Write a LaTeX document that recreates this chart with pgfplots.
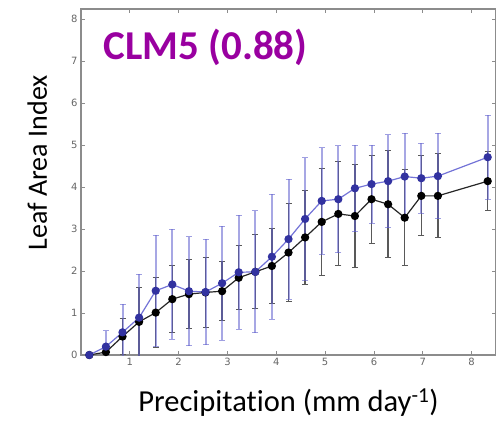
\documentclass[border=0pt]{standalone}
\usepackage{fontspec}
\setmainfont{Carlito}[Ligatures=NoCommon]
\newfontfamily\tickfont{DejaVu Sans}
\usepackage{pgfplots}
\usepackage{pgfplotstable}
\pgfplotsset{compat=1.18}

\definecolor{titlepurple}{RGB}{153,0,160}
\definecolor{markblue}{RGB}{50,50,160}
\definecolor{lineblue}{RGB}{115,115,215}
\definecolor{barblue}{RGB}{95,95,205}
\definecolor{framegray}{RGB}{140,140,140}

% precipitation bin, mean LAI, spread
\pgfplotstableread{
x     y     err
0.17  0.00  0.00
0.51  0.20  0.38
0.85  0.54  0.67
1.19  0.89  1.03
1.53  1.53  1.32
1.87  1.68  1.31
2.21  1.52  1.30
2.55  1.50  1.26
2.89  1.71  1.36
3.23  1.97  1.36
3.57  1.98  1.45
3.91  2.34  1.49
4.25  2.76  1.43
4.59  3.24  1.46
4.93  3.67  1.27
5.27  3.71  1.27
5.61  3.97  1.03
5.95  4.07  0.93
6.29  4.14  1.11
6.63  4.25  1.03
6.97  4.21  0.83
7.31  4.26  1.02
8.33  4.71  1.00
}\modeldata

\pgfplotstableread{
x     y     err
0.17  0.00  0.00
0.51  0.07  0.10
0.85  0.44  0.43
1.19  0.79  0.82
1.53  1.01  0.83
1.87  1.33  0.80
2.21  1.45  0.82
2.55  1.49  0.83
2.89  1.52  0.71
3.23  1.84  0.76
3.57  1.98  0.88
3.91  2.12  0.90
4.25  2.44  1.17
4.59  2.80  1.11
4.93  3.17  1.28
5.27  3.36  1.24
5.61  3.31  1.22
5.95  3.71  1.05
6.29  3.59  1.27
6.63  3.27  1.15
6.97  3.79  0.95
7.31  3.79  1.00
8.33  4.14  0.71
}\obsdata

\begin{document}
\begin{tikzpicture}
\begin{axis}[
    scale only axis,
    width=415pt, height=346pt,
    xmin=0, xmax=8.5,
    ymin=0, ymax=8.24,
    xtick={1,...,8},
    ytick={0,...,8},
    axis line style={framegray, line width=1.6pt},
    tick style={framegray, line width=0.8pt},
    major tick length=4pt,
    tick label style={font=\tickfont\fontsize{10}{10}\selectfont, text=black!60},
    /pgf/number format/assume math mode=true,
    xlabel={Precipitation (mm day\textsuperscript{-1})},
    ylabel={Leaf Area Index},
    xlabel style={font=\fontsize{30.5}{30.5}\selectfont,
        at={(axis description cs:0.5,-0.162)}, anchor=base},
    ylabel style={font=\fontsize{28}{28}\selectfont,
        at={(axis description cs:-0.082,0.555)}, anchor=base},
    error bars/y dir=both,
    error bars/y explicit,
]
% spread bars
\addplot[draw=none, mark=none,
    error bars/error bar style={black!65, line width=1.5pt},
    error bars/error mark options={rotate=90, mark size=3pt, black!65, line width=1pt}]
    table[x=x, y=y, y error=err] {\obsdata};
\addplot[draw=none, mark=none,
    error bars/error bar style={barblue, opacity=0.55, line width=2pt},
    error bars/error mark options={rotate=90, mark size=3pt, barblue, opacity=0.6, line width=1pt}]
    table[x=x, y=y, y error=err] {\modeldata};
% means
\addplot[black!85, line width=1.2pt, mark=*, mark size=3.5pt, mark options={fill=black, draw=black}]
    table[x=x, y=y] {\obsdata};
\addplot[lineblue, line width=1.2pt, mark=*, mark size=3.5pt, mark options={fill=markblue, draw=markblue}]
    table[x=x, y=y] {\modeldata};
\node[anchor=base west, font=\bfseries\fontsize{41}{41}\selectfont, text=titlepurple]
    at (rel axis cs:0.046,0.853) {CLM5 (0.88)};
\end{axis}
\pgfresetboundingbox
\path ([shift={(-81pt,-65pt)}]current axis.south west) rectangle ([shift={(0pt,9pt)}]current axis.north east);
\end{tikzpicture}
\end{document}
